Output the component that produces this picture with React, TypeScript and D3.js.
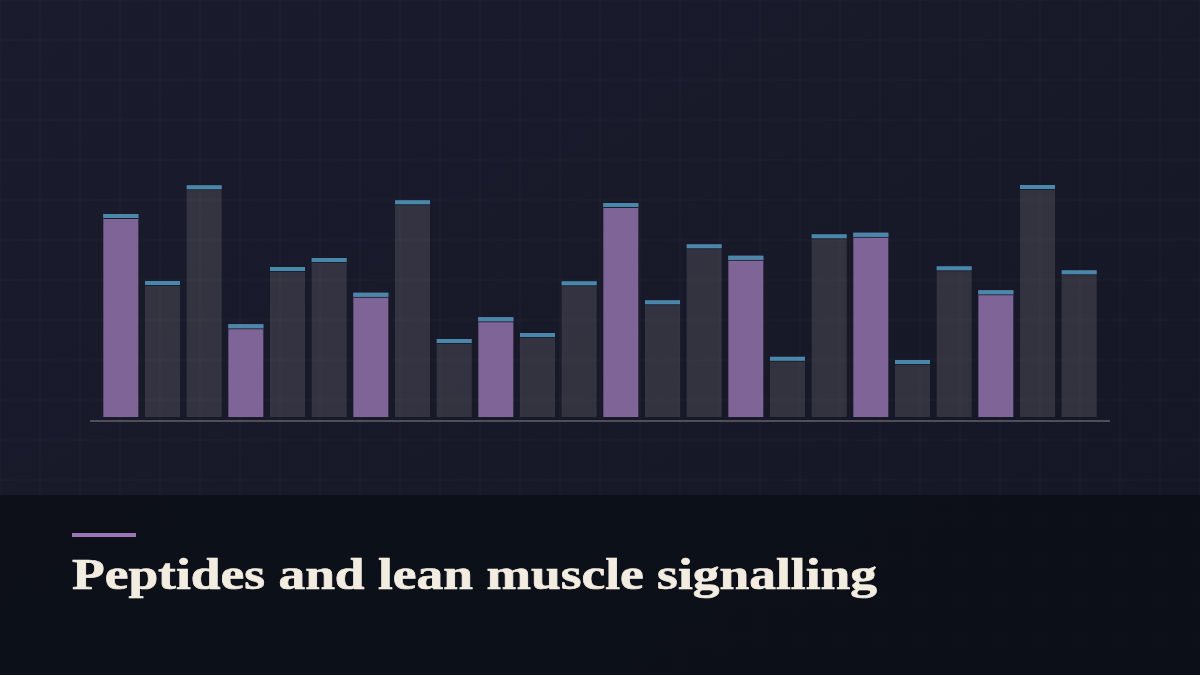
import React from "react";
import * as d3 from "d3";

const categories = [
  "P1","P2","P3","P4","P5","P6","P7","P8","P9","P10","P11","P12",
  "P13","P14","P15","P16","P17","P18","P19","P20","P21","P22","P23","P24",
];
const values = [
  81.2, 54.4, 92.7, 37.1, 60.0, 63.6, 49.7, 86.7, 31.2, 39.9, 33.6, 54.3,
  85.6, 46.7, 69.1, 64.5, 24.1, 73.1, 73.7, 22.8, 60.3, 50.7, 92.8, 58.7,
];
const highlighted = [
  true, false, false, true, false, false, true, false, false, true, false, false,
  true, false, false, true, false, false, true, false, false, true, false, false,
];
const title = "Peptides and lean muscle signalling";

const W = 1200;
const H = 675;

export default function App() {
  const x = d3
    .scaleBand<string>()
    .domain(categories)
    .range([100, 1100])
    .paddingInner(0.16)
    .paddingOuter(0.08);
  const y = d3.scaleLinear().domain([0, 100]).range([417, 167]);

  const gridX = d3.range(0, W + 1, 40);
  const gridY = d3.range(0, H + 1, 40);

  return (
    <svg
      width={W}
      height={H}
      style={{ position: "absolute", left: 0, top: 0, display: "block" }}
    >
      <defs>
        <linearGradient id="bg" x1="0" y1="0" x2="1" y2="1">
          <stop offset="0" stopColor="#1a1b2c" />
          <stop offset="1" stopColor="#151625" />
        </linearGradient>
      </defs>
      <rect x={0} y={0} width={W} height={H} fill="url(#bg)" />
      <g stroke="rgba(255,255,255,0.025)" strokeWidth={1.5}>
        {gridX.map((gx) => (
          <line key={"gx" + gx} x1={gx} x2={gx} y1={0} y2={H} />
        ))}
        {gridY.map((gy) => (
          <line key={"gy" + gy} x1={0} x2={W} y1={gy} y2={gy} />
        ))}
      </g>

      <g>
        {categories.map((c, i) => {
          const bx = x(c) as number;
          const bw = x.bandwidth();
          const top = y(values[i]);
          return (
            <g key={c}>
              <rect
                x={bx}
                y={top}
                width={bw}
                height={y(0) - top}
                fill={highlighted[i] ? "rgb(127,100,151)" : "rgba(255,248,240,0.12)"}
              />
              <rect x={bx} y={top + 4} width={bw} height={1} fill="#182031" />
              <rect x={bx} y={top} width={bw} height={4} fill="#4a88ab" />
            </g>
          );
        })}
      </g>
      <line x1={90} x2={1110} y1={421} y2={421} stroke="#4f4e59" strokeWidth={2} />

      <rect x={0} y={495} width={W} height={H - 495} fill="#0d1018" opacity={0.96} />
      <rect x={72} y={533} width={64} height={4} fill="#9a78b6" />
      <text
        x={72}
        y={589}
        fill="#f2ece1"
        stroke="#f2ece1"
        strokeWidth={0.7}
        fontFamily="'Liberation Serif', 'DejaVu Serif', serif"
        fontWeight="bold"
        fontSize={45}
        textLength={805}
        lengthAdjust="spacingAndGlyphs"
      >
        {title}
      </text>
    </svg>
  );
}
